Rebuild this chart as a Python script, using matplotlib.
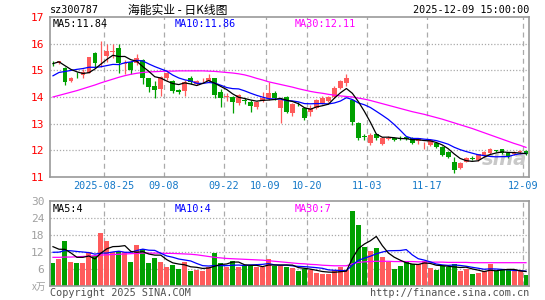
import numpy as np
import pandas as pd
import matplotlib
matplotlib.use('Agg')
import matplotlib.pyplot as plt

# daily candles, 2025-08-12 .. 2025-12-09 (80 trading days)
opens = [15.28, 15.28, 15.08, 14.61, 14.87, 14.83, 14.91, 15.64, 15.60, 15.54,
         15.69, 15.83, 15.25, 15.30, 15.26, 15.40, 14.70, 14.42, 14.30, 14.72,
         14.60, 14.26, 14.24, 14.70, 14.50, 14.62, 14.60, 14.70, 14.20, 14.00,
         14.01, 13.76, 13.90, 13.82, 13.64, 13.85, 13.95, 14.14, 13.58, 14.01,
         13.39, 13.74, 13.60, 13.45, 13.58, 13.76, 13.85, 14.01, 14.33, 14.51,
         13.88, 13.01, 12.53, 12.26, 12.61, 12.23, 12.44, 12.46, 12.46, 12.51,
         12.45, 12.36, 12.22, 12.20, 12.29, 12.14, 11.95, 11.57, 11.33, 11.57,
         11.71, 11.64, 11.79, 11.89, 12.00, 12.04, 11.89, 11.88, 11.94, 11.97]
closes = [15.26, 15.34, 14.57, 14.70, 14.85, 14.95, 15.49, 15.26, 15.62, 15.74,
          15.71, 15.26, 15.27, 15.01, 15.45, 14.70, 14.38, 14.26, 14.76, 14.89,
          14.24, 14.18, 14.58, 14.55, 14.60, 14.64, 14.72, 14.08, 13.95, 14.02,
          13.82, 14.08, 13.85, 13.67, 13.80, 13.97, 14.14, 13.95, 13.89, 13.45,
          13.73, 13.72, 13.20, 13.60, 13.89, 13.95, 14.01, 14.33, 14.60, 14.70,
          13.05, 12.45, 12.51, 12.58, 12.45, 12.47, 12.46, 12.40, 12.44, 12.41,
          12.29, 12.45, 12.24, 12.39, 12.11, 11.83, 11.74, 11.26, 11.54, 11.70,
          11.69, 11.85, 11.93, 12.05, 11.98, 11.89, 11.76, 11.90, 11.96, 11.86]
highs = [15.35, 15.36, 15.12, 14.74, 14.95, 15.05, 15.50, 15.70, 16.10, 16.00,
         15.98, 15.98, 15.40, 15.32, 15.60, 15.42, 14.72, 14.60, 14.80, 14.95,
         14.62, 14.30, 14.62, 14.78, 14.65, 14.72, 14.88, 14.72, 14.30, 14.15,
         14.05, 14.12, 13.95, 13.88, 13.85, 14.20, 14.57, 14.22, 13.92, 14.05,
         13.78, 13.80, 13.62, 13.70, 13.92, 14.02, 14.05, 14.40, 14.65, 14.85,
         13.92, 13.05, 12.60, 12.65, 12.65, 12.50, 12.52, 12.50, 12.52, 12.55,
         12.50, 12.48, 12.30, 12.42, 12.32, 12.16, 11.98, 11.76, 11.56, 11.75,
         11.80, 11.88, 11.97, 12.10, 12.03, 12.06, 11.92, 11.97, 12.00, 12.00]
lows = [15.18, 15.25, 14.45, 14.55, 14.72, 14.72, 14.90, 15.10, 15.14, 15.30,
        15.45, 14.90, 14.85, 14.88, 15.20, 14.50, 14.20, 13.97, 14.05, 14.65,
        14.15, 14.10, 14.05, 14.50, 14.45, 14.56, 14.55, 13.95, 13.64, 13.85,
        13.39, 13.70, 13.75, 13.45, 13.55, 13.82, 13.90, 13.90, 13.02, 13.40,
        13.30, 13.65, 13.15, 13.30, 13.55, 13.72, 13.80, 13.98, 14.30, 14.40,
        12.95, 12.40, 12.40, 12.20, 12.40, 12.20, 12.40, 12.35, 12.40, 12.38,
        12.25, 12.22, 12.05, 12.15, 12.08, 11.80, 11.70, 11.16, 11.30, 11.55,
        11.62, 11.60, 11.75, 11.85, 11.93, 11.85, 11.72, 11.84, 11.88, 11.83]
# volume, 万手
volumes = [8.1, 9.5, 15.8, 8.5, 8.1, 8.1, 11.9, 10.5, 18.8, 15.9,
           11.9, 12.3, 11.9, 8.5, 14.4, 13.0, 8.1, 9.9, 8.5, 6.4,
           7.3, 6.0, 8.5, 5.0, 5.5, 5.3, 6.7, 11.7, 8.1, 6.4,
           8.7, 6.7, 6.9, 7.1, 6.4, 6.4, 9.5, 7.0, 7.0, 6.5,
           6.2, 5.0, 5.8, 5.5, 4.5, 4.0, 4.0, 5.5, 6.5, 5.5,
           26.5, 21.5, 13.6, 12.3, 13.2, 10.2, 8.5, 6.0, 7.0, 8.7,
           7.8, 7.8, 8.7, 6.2, 5.5, 7.0, 6.7, 7.6, 5.2, 6.0,
           4.0, 4.5, 5.0, 7.6, 5.0, 5.5, 5.5, 5.0, 5.0, 3.8]

# estimated values just before the window (for the 5/10 day averages)
prior_closes = [14.10, 14.20, 14.30, 14.45, 14.65, 15.00, 15.30, 15.40, 15.30]
prior_volumes = [9.0, 10.0, 9.5, 10.5, 10.0, 14.0, 16.0, 15.0, 15.8]

# 30 day averages
ma30_price = [14.00, 14.06, 14.12, 14.18, 14.24, 14.31, 14.38, 14.45, 14.53, 14.60,
              14.67, 14.74, 14.80, 14.85, 14.89, 14.92, 14.94, 14.95, 14.96, 14.97,
              14.97, 14.98, 14.98, 14.98, 14.98, 14.98, 14.97, 14.96, 14.94, 14.92,
              14.90, 14.87, 14.83, 14.77, 14.70, 14.64, 14.57, 14.52, 14.47, 14.42,
              14.37, 14.31, 14.26, 14.21, 14.17, 14.14, 14.10, 14.07, 14.04, 14.02,
              14.00, 13.96, 13.92, 13.87, 13.81, 13.75, 13.69, 13.63, 13.57, 13.51,
              13.45, 13.40, 13.35, 13.29, 13.23, 13.17, 13.10, 13.03, 12.96, 12.89,
              12.82, 12.74, 12.66, 12.58, 12.50, 12.42, 12.34, 12.26, 12.19, 12.11]
ma30_vol = [10.0, 10.0, 10.1, 10.1, 10.2, 10.3, 10.4, 10.6, 10.8, 10.9,
            11.0, 11.1, 11.2, 11.3, 11.4, 11.5, 11.5, 11.5, 11.5, 11.4,
            11.4, 11.3, 11.2, 11.1, 10.9, 10.6, 10.3, 10.0, 9.8, 9.6,
            9.5, 9.4, 9.3, 9.2, 9.1, 9.0, 8.8, 8.6, 8.4, 8.2,
            8.0, 7.8, 7.7, 7.5, 7.4, 7.2, 7.1, 7.0, 7.0, 7.0,
            7.7, 8.2, 8.4, 8.5, 8.6, 8.6, 8.6, 8.5, 8.5, 8.5,
            8.5, 8.4, 8.4, 8.3, 8.3, 8.3, 8.2, 8.2, 8.2, 8.2,
            8.1, 8.1, 8.1, 8.1, 8.1, 8.1, 8.1, 8.1, 8.1, 8.1]

tick_idx = [9, 19, 29, 36, 43, 53, 63, 79]
tick_labels = ['2025-08-25', '09-08', '09-22', '10-09', '10-20', '11-03', '11-17', '12-09']

RED = '#FF5B5B'
GREEN = '#00A000'
GRID = '#AAAAAA'
MONO = 'DejaVu Sans Mono'

n = len(closes)
x = np.arange(n)
o = np.array(opens)
c = np.array(closes)
up = c >= o
cols = np.where(up, RED, GREEN)

cs = pd.Series(prior_closes + closes)
ma5 = cs.rolling(5).mean().values[-n:]
ma10 = cs.rolling(10).mean().values[-n:]
vs = pd.Series(prior_volumes + volumes)
vma5 = vs.rolling(5).mean().values[-n:]
vma10 = vs.rolling(10).mean().values[-n:]

fig = plt.figure(figsize=(5.45, 3.0), dpi=100)
ax = fig.add_axes([50/545, 1-177/300, 479/545, 160/300])
axv = fig.add_axes([50/545, 1-285.5/300, 479/545, 84.5/300])

for a in (ax, axv):
    a.set_xlim(-0.5, n-0.5)
    for s in a.spines.values():
        s.set_color('#999999')
        s.set_linewidth(1.2)
    for t in tick_idx:
        a.axvline(t-0.5, color=GRID, lw=0.9, ls=(0, (4, 3)), zorder=0)
    a.set_xticks([])
    a.tick_params(axis='y', length=0, pad=4)

# price panel
ax.set_ylim(11, 17)
ax.set_yticks([11, 12, 13, 14, 15, 16, 17])
ax.set_yticklabels(['11', '12', '13', '14', '15', '16', '17'], color='red',
                   fontsize=8, family=MONO)
for yv in [12, 13, 14, 15, 16]:
    ax.axhline(yv, color=GRID, lw=0.9, ls=(0, (1, 1.5)), zorder=0)

ax.vlines(x, lows, highs, colors=cols, lw=0.9, zorder=2)
body = np.maximum(np.abs(c - o), 0.025)
ax.bar(x, body, bottom=np.minimum(o, c), width=0.8, color=cols, lw=0, zorder=3)

ax.plot(x, ma30_price, color='#FF00FF', lw=0.9, zorder=4)
ax.plot(x, ma10, color='#0000FF', lw=0.9, zorder=4)
ax.plot(x, ma5, color='black', lw=0.9, zorder=4)

ax.text(0.006, 0.985, 'MA5:11.84', transform=ax.transAxes, va='top', fontsize=7.3,
        family=MONO, color='black')
ax.text(0.26, 0.985, 'MA10:11.86', transform=ax.transAxes, va='top', fontsize=7.3,
        family=MONO, color='#0000FF')
ax.text(0.51, 0.985, 'MA30:12.11', transform=ax.transAxes, va='top', fontsize=7.3,
        family=MONO, color='#FF00FF')
ax.text(0.995, 0.05, 'sina', transform=ax.transAxes, ha='right', va='bottom',
        fontsize=14, style='italic', weight='bold', color='#C8C8C8', zorder=1)

for t, lab in zip(tick_idx, tick_labels):
    ax.text(t-0.5, 10.65, lab, ha='center', va='center', fontsize=7.3, family=MONO,
            color='#1478C8', clip_on=False)

# volume panel
axv.set_ylim(0, 30)
axv.set_yticks([6, 12, 18, 24, 30])
axv.set_yticklabels(['6', '12', '18', '24', '30'], color='#A0A0A0', fontsize=8, family=MONO)
for yv in [6, 12, 18, 24]:
    axv.axhline(yv, color=GRID, lw=0.9, ls=(0, (1, 1.5)), zorder=0)
axv.bar(x, volumes, width=0.83, color=cols, lw=0, zorder=2)
axv.plot(x, ma30_vol, color='#FF00FF', lw=0.9, zorder=4)
axv.plot(x, vma10, color='#0000FF', lw=0.9, zorder=4)
axv.plot(x, vma5, color='black', lw=0.9, zorder=4)
axv.text(0.006, 0.97, 'MA5:4', transform=axv.transAxes, va='top', fontsize=7.3,
         family=MONO, color='black')
axv.text(0.26, 0.97, 'MA10:4', transform=axv.transAxes, va='top', fontsize=7.3,
         family=MONO, color='#0000FF')
axv.text(0.51, 0.97, 'MA30:7', transform=axv.transAxes, va='top', fontsize=7.3,
         family=MONO, color='#FF00FF')

# header / footer text
fig.text(50/545, 1-10/300, 'sz300787', ha='left', va='center', fontsize=7.3,
         family=MONO, color='black')
fig.text(178/545, 1-10/300, '海能实业 - 日K线图', ha='center', va='center', fontsize=8.5,
         family=['Noto Sans CJK SC', 'DejaVu Sans'], color='black')
fig.text(529/545, 1-10/300, '2025-12-09 15:00:00', ha='right', va='center',
         fontsize=7.3, family=MONO, color='black')
fig.text(46/545, 1-287/300, 'x万', ha='right', va='center', fontsize=7,
         family=['Noto Sans CJK SC', 'DejaVu Sans'], color='#A0A0A0')
fig.text(50/545, 1-292.5/300, 'Copyright 2025 SINA.COM', ha='left', va='center',
         fontsize=7.3, family=MONO, color='#505050')
fig.text(529/545, 1-292.5/300, 'http://finance.sina.com.cn', ha='right', va='center',
         fontsize=7.3, family=MONO, color='#505050')

fig.savefig('out.png', dpi=100, facecolor='white')
